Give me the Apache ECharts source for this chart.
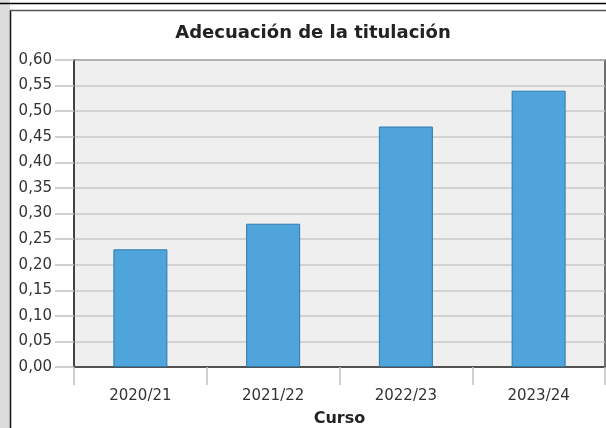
<!DOCTYPE html>
<html>
<head>
<meta charset="utf-8">
<script src="https://cdn.jsdelivr.net/npm/echarts@6/dist/echarts.min.js"></script>
<style>
html,body{margin:0;padding:0;background:#fff;}
#c{width:606px;height:428px;}
</style>
</head>
<body>
<div id="c"></div>
<script>
const categories = ['2020/21', '2021/22', '2022/23', '2023/24'];
const values = [0.23, 0.28, 0.47, 0.54];
const titleText = 'Adecuación de la titulación';
const xAxisName = 'Curso';

const chart = echarts.init(document.getElementById('c'), null, {renderer: 'canvas'});
const font = 'DejaVu Sans';
chart.setOption({
  animation: false,
  backgroundColor: '#fff',
  title: {
    text: titleText,
    left: 308, top: 19, textAlign: 'center',
    textStyle: {fontFamily: font, fontSize: 18, fontWeight: 'bold', color: '#222'}
  },
  graphic: [
    {type: 'rect', shape: {x: 0, y: 0, width: 10, height: 428}, style: {fill: '#dcdcdc'}, silent: true},
    {type: 'rect', shape: {x: 10, y: 0, width: 596, height: 10}, style: {fill: '#fff'}, silent: true},
    {type: 'line', shape: {x1: 0, y1: 3.5, x2: 606, y2: 3.5}, style: {stroke: '#000', lineWidth: 1.5}, silent: true},
    {type: 'line', shape: {x1: 10.5, y1: 10, x2: 10.5, y2: 428}, style: {stroke: '#111', lineWidth: 1.5}, silent: true},
    {type: 'line', shape: {x1: 10, y1: 10.5, x2: 606, y2: 10.5}, style: {stroke: '#555', lineWidth: 1.5}, silent: true}
  ],
  grid: {
    left: 74, top: 60, right: 1, bottom: 61,
    outerBoundsMode: 'none', containLabel: false,
    show: true, backgroundColor: '#eeefee', borderColor: '#444', borderWidth: 1.5
  },
  xAxis: {
    type: 'category',
    data: categories,
    name: xAxisName,
    nameLocation: 'middle',
    nameGap: 44,
    nameTextStyle: {fontFamily: font, fontSize: 16, fontWeight: 'bold', color: '#222'},
    axisLine: {lineStyle: {color: '#333', width: 1.5}},
    axisTick: {show: true, length: 18, lineStyle: {color: '#c0c0c0', width: 1.5}},
    axisLabel: {fontFamily: font, fontSize: 15, color: '#333', margin: 22}
  },
  yAxis: {
    type: 'value',
    min: 0, max: 0.6, interval: 0.05,
    axisLine: {show: true, lineStyle: {color: '#333', width: 1.5}},
    axisTick: {show: true, length: 19, lineStyle: {color: '#c0c0c0', width: 1.5}},
    axisLabel: {
      fontFamily: font, fontSize: 15, color: '#333', margin: 22,
      formatter: v => v.toFixed(2).replace('.', ',')
    },
    splitLine: {show: true, lineStyle: {color: '#c8c8c8', width: 1.5}}
  },
  series: [{
    type: 'bar',
    data: values,
    barWidth: 54,
    itemStyle: {color: '#4fa4db', borderColor: '#2f7aab', borderWidth: 1}
  }]
});
</script>
</body>
</html>
